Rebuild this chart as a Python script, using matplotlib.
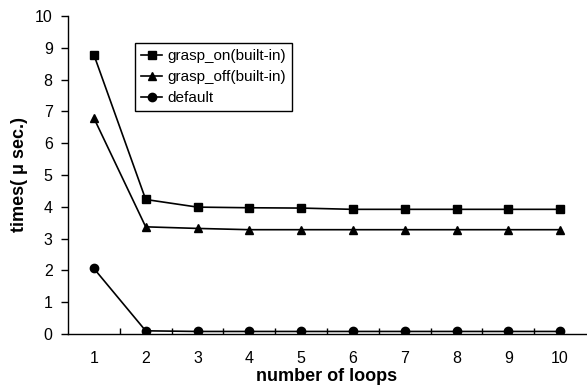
import numpy as np
import matplotlib.pyplot as plt
from matplotlib.ticker import MultipleLocator, FixedLocator

plt.rcParams["font.family"] = ["Liberation Sans Narrow", "Liberation Sans", "DejaVu Sans"]

# データ
loops = [1, 2, 3, 4, 5, 6, 7, 8, 9, 10]
grasp_on = [8.78, 4.23, 3.99, 3.97, 3.96, 3.92, 3.92, 3.92, 3.92, 3.92]
grasp_off = [6.79, 3.37, 3.32, 3.28, 3.28, 3.28, 3.28, 3.28, 3.28, 3.28]
default = [2.06, 0.10, 0.08, 0.08, 0.08, 0.08, 0.08, 0.08, 0.08, 0.08]

fig = plt.figure(figsize=(5.87, 3.85), dpi=100)
ax = fig.add_axes([68 / 587, 51 / 385, 518 / 587, 318 / 385])

ax.plot(loops, grasp_on, color="black", lw=1.2, marker="s", ms=6, label="grasp_on(built-in)")
ax.plot(loops, grasp_off, color="black", lw=1.2, marker="^", ms=6, label="grasp_off(built-in)")
ax.plot(loops, default, color="black", lw=1.2, marker="o", ms=6, label="default")

ax.set_xlim(0.5, 10.5)
ax.set_ylim(0, 10)
ax.yaxis.set_major_locator(MultipleLocator(1))
ax.set_xticks(loops)
ax.xaxis.set_minor_locator(FixedLocator(np.arange(1.5, 10.5, 1)))
ax.tick_params(axis="x", which="major", length=0, labelsize=11.5, pad=12)
ax.tick_params(axis="x", which="minor", direction="in", length=4, width=1)
ax.tick_params(axis="y", direction="out", length=5, width=1, labelsize=11.5, pad=6)

for s in ["top", "right"]:
    ax.spines[s].set_visible(False)
ax.spines["left"].set_linewidth(1)
ax.spines["bottom"].set_linewidth(1)

ax.set_xlabel("number of loops", fontsize=13, fontweight="bold",
              family=["Liberation Sans", "DejaVu Sans"], labelpad=2)
ax.set_ylabel("times( μ sec.)", fontsize=13, fontweight="bold",
              family=["Liberation Sans", "DejaVu Sans"], labelpad=5)

leg = ax.legend(loc="upper left", bbox_to_anchor=(0.129, 0.915), fontsize=11,
                frameon=True, fancybox=False, edgecolor="black", framealpha=1,
                handlelength=1.4, handletextpad=0.3, borderpad=0.4, labelspacing=0.45,
                borderaxespad=0)
leg.get_frame().set_linewidth(1)

fig.savefig("out.png", dpi=100)
